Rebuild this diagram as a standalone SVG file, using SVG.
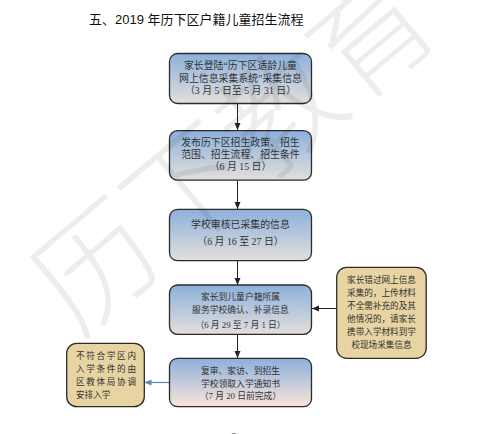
<svg xmlns="http://www.w3.org/2000/svg" width="485" height="434" viewBox="0 0 485 434">
<style>
.box{stroke:#2b2b2b;stroke-width:1.3}
.t{font-family:"Liberation Serif","Noto Sans CJK SC",serif;fill:#333;text-anchor:middle}
.s{font-size:9.9px}
.m{font-size:8.8px}
.n{font-family:"Liberation Serif","Noto Sans CJK SC",serif;fill:#333;font-size:8.6px}
.c{stroke:#222;stroke-width:1;fill:none}
</style>
<defs>
<linearGradient id="gb" x1="0" y1="0" x2="0" y2="1">
<stop offset="0" stop-color="#8cb0dc"/>
<stop offset="1" stop-color="#e3dfdc"/>
</linearGradient>
<linearGradient id="gp" x1="0" y1="0" x2="0" y2="1">
<stop offset="0" stop-color="#8cb0dc"/>
<stop offset="1" stop-color="#fbe5d8"/>
</linearGradient>
<marker id="ah" markerWidth="8" markerHeight="8" refX="7" refY="4" orient="auto" markerUnits="userSpaceOnUse">
<path d="M0,1 L7,4 L0,7 Z" fill="#222"/>
</marker>
<marker id="ahb" markerWidth="8" markerHeight="8" refX="7" refY="4" orient="auto" markerUnits="userSpaceOnUse">
<path d="M0,1 L7,4 L0,7 Z" fill="#5b87bb"/>
</marker>
</defs>
<rect width="485" height="434" fill="#fff"/>
<text x="89" y="23.5" font-family="'Liberation Sans','Noto Sans CJK SC',sans-serif" font-size="13" fill="#111">五、2019 年历下区户籍儿童招生流程</text>

<g id="connectors">
<line class="c" x1="237.5" y1="103.5" x2="237.5" y2="130" marker-end="url(#ah)"/>
<line class="c" x1="237.5" y1="180" x2="237.5" y2="209" marker-end="url(#ah)"/>
<line class="c" x1="237.5" y1="260.7" x2="237.5" y2="285" marker-end="url(#ah)"/>
<line class="c" x1="237.5" y1="334.5" x2="237.5" y2="358" marker-end="url(#ah)"/>
<line class="c" x1="336.7" y1="308.5" x2="312" y2="308.5" marker-end="url(#ah)"/>
<line x1="169.3" y1="382.5" x2="144.5" y2="382.5" stroke="#5b87bb" stroke-width="1.2" marker-end="url(#ahb)"/>
</g>

<g id="n1">
<rect class="box" x="169.5" y="53.5" width="142" height="50" rx="8" fill="url(#gb)"/>
<text class="t s" x="240.5" y="69">家长登陆“历下区适龄儿童</text>
<text class="t s" x="240.5" y="81.5">网上信息采集系统”采集信息</text>
<text class="t s" x="240.5" y="94">（3 月 5 日至 5 月 31 日）</text>
</g>
<g id="n2">
<rect class="box" x="169.5" y="130.7" width="142" height="49.5" rx="8" fill="url(#gb)"/>
<text class="t s" x="240.5" y="145.5">发布历下区招生政策、招生</text>
<text class="t s" x="240.5" y="158">范围、招生流程、招生条件</text>
<text class="t s" x="240.5" y="170">（6 月 15 日）</text>
</g>
<g id="n3">
<rect class="box" x="169.5" y="209.3" width="142" height="51.4" rx="8" fill="url(#gb)"/>
<text class="t s" x="240.5" y="228">学校审核已采集的信息</text>
<text class="t s" x="240.5" y="244.5">（6 月 16 至 27 日）</text>
</g>
<g id="n4">
<rect class="box" x="169.5" y="285" width="142" height="49.3" rx="8" fill="url(#gb)"/>
<text class="t m" x="240.5" y="300">家长到儿童户籍所属</text>
<text class="t m" x="240.5" y="312.5">服务学校确认、补录信息</text>
<text class="t m" x="240.5" y="328">（6 月 29 至 7 月 1 日）</text>
</g>
<g id="n5">
<rect class="box" x="169.5" y="358.3" width="142" height="48.4" rx="8" fill="url(#gp)"/>
<text class="t m" x="240.5" y="374">复审、家访、到招生</text>
<text class="t m" x="240.5" y="386.5">学校领取入学通知书</text>
<text class="t m" x="240.5" y="399">（7 月 20 日前完成）</text>
</g>
<g id="n6">
<rect class="box" x="336.7" y="267.3" width="89.5" height="91" rx="10" fill="#e8d4a2"/>
<text class="n" x="381.5" y="283.2" text-anchor="middle">家长错过网上信息</text>
<text class="n" x="381.5" y="296.3" text-anchor="middle">采集的，上传材料</text>
<text class="n" x="381.5" y="309.1" text-anchor="middle">不全需补充的及其</text>
<text class="n" x="381.5" y="322" text-anchor="middle">他情况的，请家长</text>
<text class="n" x="381.5" y="335" text-anchor="middle">携带入学材料到学</text>
<text class="n" x="381.5" y="348" text-anchor="middle">校现场采集信息</text>
</g>
<g id="n7">
<rect class="box" x="66.7" y="343.3" width="77.6" height="63.4" rx="10" fill="#e8d4a2"/>
<text class="n" x="76" y="359.2" textLength="60" lengthAdjust="spacing">不符合学区内</text>
<text class="n" x="76" y="372.4" textLength="60" lengthAdjust="spacing">入学条件的由</text>
<text class="n" x="76" y="385.4" textLength="60" lengthAdjust="spacing">区教体局协调</text>
<text class="n" x="76" y="398.2">安排入学</text>
</g>

<text x="234" y="440" font-family="'Liberation Serif',serif" font-size="10" fill="#222" text-anchor="middle">2</text>

<text x="0" y="0" transform="translate(78,338) rotate(-40)" font-family="'Noto Sans CJK SC',sans-serif" font-weight="300" font-size="120" fill="#000" fill-opacity="0.07">历下教育</text>
</svg>
